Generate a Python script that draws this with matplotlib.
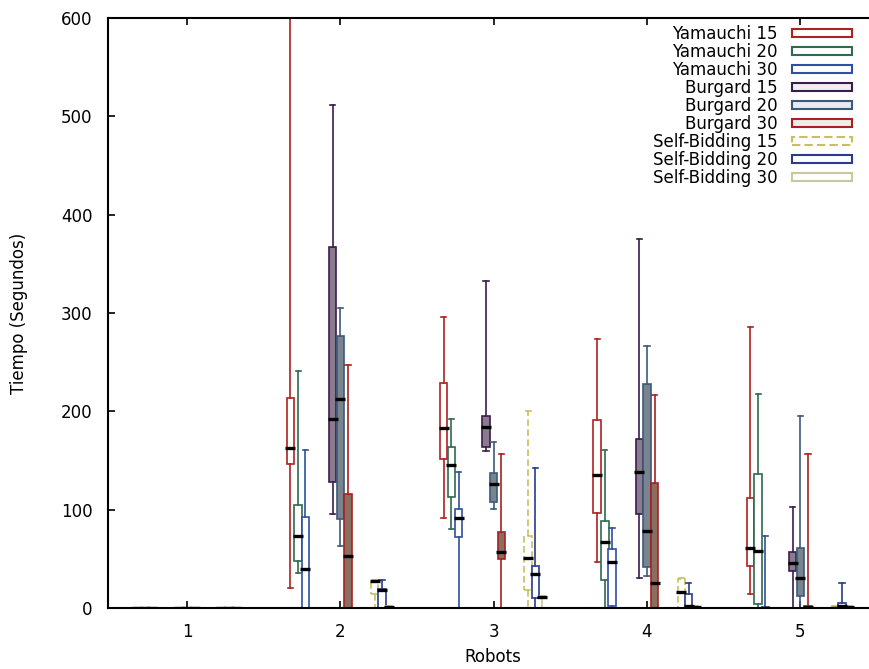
import matplotlib
matplotlib.use("Agg")
import matplotlib.pyplot as plt
from matplotlib.patches import Patch
import numpy as np

robots = [1, 2, 3, 4, 5]
series_names = ["Yamauchi 15", "Yamauchi 20", "Yamauchi 30",
                "Burgard 15", "Burgard 20", "Burgard 30",
                "Self-Bidding 15", "Self-Bidding 20", "Self-Bidding 30"]

# per robot: [whisker low, q1, median, q3, whisker high]
yam15 = [[0, 0, 0, 0, 0], [20.7, 146.4, 163, 213.6, 600], [91.9, 151.5, 182.7, 228.5, 295.6],
         [47.1, 96.3, 135.3, 191.2, 273.2], [13.9, 43, 61.3, 111.5, 285.4]]
yam20 = [[0, 0, 0, 0, 0], [36, 47.8, 73.5, 104.7, 241], [80, 113.2, 145.4, 164, 191.9],
         [0, 28.5, 66.8, 88.8, 160.7], [0, 4, 58, 136, 217.6]]
yam30 = [[0, 0, 0, 0, 0], [0, 0, 39.3, 92.9, 160.7], [0, 72.5, 91.9, 100.4, 138.6],
         [0, 2, 47.1, 59.7, 81], [0, 0, 0, 1, 73.5]]
bur15 = [[0, 0, 0, 0, 0], [95.3, 128.5, 191.9, 367.5, 511.5], [160, 163.4, 183.8, 195.3, 332.9],
         [30.2, 95.3, 138.6, 171.5, 375], [0, 38, 46.1, 56.6, 102.4]]
bur20 = [[0, 0, 0, 0, 0], [63.4, 90.2, 212.5, 277, 304.8], [101, 108.1, 126.1, 137.6, 169.1],
         [33, 41.4, 78.3, 227.5, 266.4], [0, 12.5, 30.2, 61.3, 195.3]]
bur30 = [[0, 0, 0, 0, 0], [0, 0, 52.9, 116, 247], [0, 49.8, 57.3, 77.6, 156.6],
         [0, 0, 25.1, 126.8, 216.6], [0, 0, 1, 2, 156.6]]
sb15 = [[0, 0, 0, 0, 0], [0, 14, 27, 28, 28], [0, 18, 50.5, 73, 200],
        [0, 0, 16.6, 30, 31], [0, 0, 0, 1, 2]]
sb20 = [[0, 0, 0, 0, 0], [0, 0, 18, 19, 28.5], [0, 10.5, 34.2, 42.7, 142],
        [0, 0, 2, 14.2, 25.8], [0, 0, 2, 5.4, 25.8]]
sb30 = [[0, 0, 0, 0, 0], [0, 0, 1, 1, 2], [0, 10, 11, 11, 12],
        [0, 0, 1, 1, 2], [0, 0, 1, 1, 2]]

all_series = [yam15, yam20, yam30, bur15, bur20, bur30, sb15, sb20, sb30]

offsets = [-0.325, -0.275, -0.228, -0.05, 0.0, 0.05, 0.225, 0.272, 0.318]
edge_colors = ["#b02020", "#2f6b4f", "#2f4fa0", "#3c1c4c", "#3c5a7c", "#a82020",
               "#c8c060", "#2a3c8c", "#c8c89c"]
face_colors = ["white", "white", "white", "#8a7c8e", "#7a848e", "#8a6e62",
               "white", "white", "white"]
legend_faces = ["white", "white", "white", "#f0eef0", "#e8ecf0", "#f0ecea",
                "white", "white", "white"]
line_styles = ["-", "-", "-", "-", "-", "-", (0, (4, 2)), "-", "-"]

W, H = 869, 669
fig = plt.figure(figsize=(W / 100, H / 100), dpi=100)
ax = fig.add_axes([108 / W, 61 / H, (877 - 108) / W, 590 / H])

bw = 0.048
for s, data in enumerate(all_series):
    stats = []
    for r, vals in zip(robots, data):
        lo, q1, med, q3, hi = vals
        stats.append(dict(whislo=lo, q1=q1, med=med, q3=q3, whishi=hi, fliers=[]))
    pos = [r + offsets[s] for r in robots]
    col = edge_colors[s]
    ls = line_styles[s]
    ax.bxp(stats, positions=pos, widths=bw, patch_artist=True, showfliers=False,
           capwidths=bw * 0.7,
           boxprops=dict(facecolor=face_colors[s], edgecolor=col, linewidth=1.2, linestyle=ls),
           whiskerprops=dict(color=col, linewidth=1.2, linestyle=ls),
           capprops=dict(color=col, linewidth=1.2),
           medianprops=dict(linewidth=0))
    meds = [v[2] for v in data]
    ax.hlines(meds, [p - bw * 0.68 for p in pos], [p + bw * 0.68 for p in pos],
              colors="black", linewidth=2.4, zorder=4)

ax.set_xlim(0.485, 5.5)
ax.set_ylim(0, 600)
ax.set_xticks(robots)
ax.set_xticklabels([str(r) for r in robots])
ax.set_yticks([0, 100, 200, 300, 400, 500, 600])
ax.tick_params(axis="both", direction="in", length=5, width=1.2, labelsize=12, pad=11)
ax.tick_params(axis="x", top=True)
for sp in ["left", "bottom", "top"]:
    ax.spines[sp].set_linewidth(1.5)
ax.spines["right"].set_visible(False)

ax.set_xlabel("Robots", fontsize=12, labelpad=5)
ax.set_ylabel("Tiempo (Segundos)", fontsize=12, labelpad=24)

handles = [Patch(facecolor=legend_faces[i], edgecolor=edge_colors[i], linewidth=1.5,
                 linestyle=line_styles[i]) for i in range(9)]
leg = ax.legend(handles, series_names, loc="upper right", bbox_to_anchor=(0.983, 1.008),
                frameon=False, markerfirst=False, fontsize=12, handlelength=3.6,
                handleheight=0.45, labelspacing=0.0, handletextpad=0.9,
                borderaxespad=0.3)
for t in leg.get_texts():
    t.set_ha("right")

fig.savefig("out.png", dpi=100)
